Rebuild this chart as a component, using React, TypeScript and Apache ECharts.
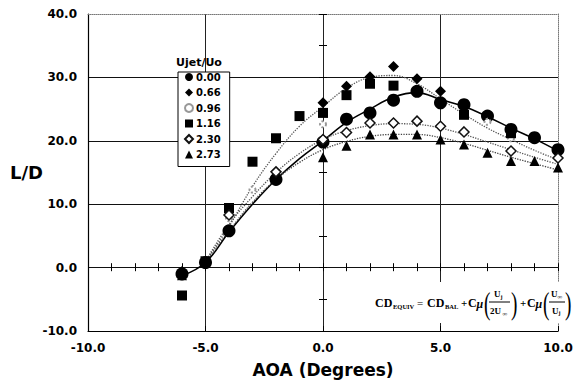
import React, { useEffect, useRef } from "react";
import * as echarts from "echarts";

const seriesNames = ["0.00", "0.66", "0.96", "1.16", "2.30", "2.73"];

const aoa000 = [-6, -5, -4, -2, 0, 1, 2, 3, 4, 5, 6, 7, 8, 9, 10];
const ld000 = [-1.0, 0.8, 5.8, 13.9, 19.8, 23.4, 24.4, 26.4, 27.8, 26.0, 25.7, 23.9, 21.8, 20.5, 18.6];

const aoa066 = [-6, -5, 0, 1, 2, 3, 4, 5];
const ld066 = [-0.6, 1.0, 26.0, 28.6, 30.1, 31.7, 29.8, 27.8];

const aoa096 = [-4, -3, 0, 7, 8];
const ld096 = [7.8, 12.3, 22.6, 23.0, 20.4];

const aoa116 = [-6, -5, -4, -3, -2, -1, 0, 1, 2, 3, 6, 8];
const ld116 = [-4.4, 1.0, 9.4, 16.7, 20.4, 23.9, 24.4, 27.2, 29.0, 28.7, 24.1, 21.2];

const aoa230 = [-4, -2, 0, 1, 2, 3, 4, 5, 6, 8, 10];
const ld230 = [8.3, 15.1, 20.2, 21.3, 22.8, 22.8, 23.1, 22.3, 21.4, 18.4, 17.3];

const aoa273 = [-6, -5, 0, 1, 2, 3, 4, 5, 6, 7, 8, 9, 10];
const ld273 = [-1.2, 0.8, 17.4, 19.2, 21.0, 21.0, 21.0, 20.2, 19.4, 18.1, 16.8, 16.8, 15.8];

// trend curves
const fitSolidAoa = [-6, -5, -4, -3, -2, -1, 0, 1, 2, 3, 4, 5, 6, 7, 8, 9, 10];
const fitSolid = [-1.3, 0.8, 5.6, 10.0, 13.9, 17.2, 20.0, 22.9, 25.0, 26.9, 27.6, 26.5, 25.4, 23.8, 22.0, 20.3, 18.4];
const fitDotAoa = [-5, -4, -3, -2, -1, 0, 1, 2, 3, 4, 5, 6, 7, 8, 9, 10];
const fitUpper = [1.0, 6.5, 12.8, 18.0, 22.3, 25.4, 28.3, 30.0, 30.3, 29.0, 26.6, 24.2, 22.0, 20.2, 18.5, 17.0];
const fitMid = [1.0, 6.8, 11.2, 15.0, 18.0, 20.2, 21.6, 22.4, 22.7, 22.6, 22.0, 21.0, 19.8, 18.6, 17.4, 16.3];
const fitLower = [0.9, 5.8, 10.3, 13.9, 16.6, 18.6, 19.9, 20.7, 21.0, 21.0, 20.5, 19.6, 18.5, 17.4, 16.4, 15.4];

const zip = (xs: number[], ys: number[]) => xs.map((x, i) => [x, ys[i]]);

const sans = '"DejaVu Sans", Arial, sans-serif';
const serif = '"Liberation Serif", "DejaVu Serif", serif';

const ftxt = (text: string, x: number, y: number, size: number, bold = true, italic = false, scaleX = 1) => ({
  type: "text",
  x,
  y,
  z: 60,
  scaleX,
  style: {
    text,
    fontSize: size,
    fontWeight: bold ? "bold" : "normal",
    fontStyle: italic ? "italic" : "normal",
    fontFamily: serif,
    fill: "#000",
    align: "left",
    verticalAlign: "middle",
  },
});

// grid geometry (px)
const G_LEFT = 88;
const G_RIGHT = 21;
const G_TOP = 14;
const G_BOTTOM = 50;
const W = 579;
const H = 383;

export default function App() {
  const ref = useRef<HTMLDivElement>(null);
  useEffect(() => {
    const chart = echarts.init(ref.current!, null, { renderer: "svg" });
    const fmt = (v: number) => v.toFixed(1);
    const lbl = { fontFamily: sans, fontWeight: "bold", fontSize: 12, color: "#000" };
    const hidden = { show: false };
    const plotW = W - G_LEFT - G_RIGHT;
    const plotH = H - G_TOP - G_BOTTOM;
    const xZeroOffset = -((0 - -10) / 20) * plotW;
    const yZeroOffset = -((0 - -10) / 50) * plotH;
    const tickAxisX = (inside: boolean) => ({
      type: "value",
      min: -10,
      max: 10,
      interval: 1,
      position: "bottom",
      offset: yZeroOffset,
      axisLine: { show: false, onZero: false },
      axisTick: { show: true, inside, length: 4, lineStyle: { color: "#000", width: 1 } },
      axisLabel: hidden,
      splitLine: hidden,
    });
    const tickAxisY = (inside: boolean) => ({
      type: "value",
      min: -10,
      max: 40,
      interval: 5,
      position: "left",
      offset: xZeroOffset,
      axisLine: { show: false, onZero: false },
      axisTick: { show: true, inside, length: 4, lineStyle: { color: "#000", width: 1 } },
      axisLabel: hidden,
      splitLine: hidden,
    });
    const option: any = {
      animation: false,
      backgroundColor: "#fff",
      textStyle: { fontFamily: sans },
      grid: { left: G_LEFT, right: G_RIGHT, top: G_TOP, bottom: G_BOTTOM },
      legend: {
        orient: "vertical",
        left: 178,
        top: 72,
        data: seriesNames,
        itemWidth: 8,
        itemHeight: 8,
        itemGap: 5.5,
        padding: [0, 9, 7, 6],
        backgroundColor: "#fff",
        borderColor: "#000",
        borderWidth: 1,
        textStyle: { fontFamily: sans, fontWeight: "bold", fontSize: 10, color: "#000", padding: [0, 0, 0, -2] },
        z: 20,
      },
      xAxis: [
        {
          type: "value",
          min: -10,
          max: 10,
          interval: 5,
          position: "bottom",
          axisLine: { onZero: false, lineStyle: { color: "#000", width: 1.2 } },
          axisTick: { show: true, inside: true, length: 5, lineStyle: { color: "#000" } },
          axisLabel: { ...lbl, margin: 11, formatter: fmt },
          splitLine: { show: true, showMinLine: false, showMaxLine: false, lineStyle: { color: "#222", width: 1 } },
          name: "AOA (Degrees)",
          nameLocation: "middle",
          nameGap: 30,
          nameMoveOverlap: false,
          nameTextStyle: { fontFamily: sans, fontWeight: "bold", fontSize: 17, color: "#000" },
        },
        tickAxisX(false),
        tickAxisX(true),
        {
          type: "value",
          min: -10,
          max: 10,
          position: "top",
          axisLine: { show: true, onZero: false, lineStyle: { color: "#777", width: 1, type: "dotted" } },
          axisTick: hidden,
          axisLabel: hidden,
          splitLine: hidden,
        },
      ],
      yAxis: [
        {
          type: "value",
          min: -10,
          max: 40,
          interval: 10,
          position: "left",
          axisLine: { show: true, onZero: false, lineStyle: { color: "#000", width: 1.2 } },
          axisTick: hidden,
          axisLabel: { ...lbl, margin: 11, formatter: fmt },
          splitLine: { show: true, showMinLine: false, showMaxLine: false, lineStyle: { color: "#111", width: 1 } },
          name: "L/D",
          nameLocation: "middle",
          nameRotate: 0,
          nameGap: 45,
          nameMoveOverlap: false,
          nameTextStyle: { fontFamily: sans, fontWeight: "bold", fontSize: 18, color: "#000" },
        },
        tickAxisY(false),
        tickAxisY(true),
        {
          type: "value",
          min: -10,
          max: 40,
          position: "right",
          axisLine: { show: true, onZero: false, lineStyle: { color: "#777", width: 1, type: "dotted" } },
          axisTick: hidden,
          axisLabel: hidden,
          splitLine: hidden,
        },
      ],
      series: [
        {
          type: "line",
          name: "fit 0.00",
          data: zip(fitSolidAoa, fitSolid),
          smooth: 0.4,
          symbol: "none",
          lineStyle: { color: "#000", width: 1.6 },
          z: 3,
        },
        {
          type: "line",
          name: "fit upper",
          data: zip(fitDotAoa, fitUpper),
          smooth: 0.4,
          symbol: "none",
          lineStyle: { color: "#555", width: 1.3, type: "dotted" },
          z: 3,
        },
        {
          type: "line",
          name: "fit 2.30",
          data: zip(fitDotAoa, fitMid),
          smooth: 0.4,
          symbol: "none",
          lineStyle: { color: "#555", width: 1.3, type: "dotted" },
          z: 3,
        },
        {
          type: "line",
          name: "fit 2.73",
          data: zip(fitDotAoa, fitLower),
          smooth: 0.4,
          symbol: "none",
          lineStyle: { color: "#444", width: 1.3, type: "dotted" },
          z: 3,
        },
        {
          type: "scatter",
          name: "0.00",
          data: zip(aoa000, ld000),
          symbol: "circle",
          symbolSize: 13,
          itemStyle: { color: "#000", opacity: 1 },
          z: 5,
        },
        {
          type: "scatter",
          name: "0.66",
          data: zip(aoa066, ld066),
          symbol: "diamond",
          symbolSize: 11,
          itemStyle: { color: "#000", opacity: 1 },
          z: 5,
        },
        {
          type: "scatter",
          name: "0.96",
          data: zip(aoa096, ld096),
          symbol: "emptyCircle",
          symbolSize: 6,
          itemStyle: { color: "#999", borderColor: "#999", borderWidth: 1, borderType: "dotted", opacity: 1 },
          z: 5,
        },
        {
          type: "scatter",
          name: "1.16",
          data: zip(aoa116, ld116),
          symbol: "rect",
          symbolSize: 10,
          itemStyle: { color: "#000", opacity: 1 },
          z: 5,
        },
        {
          type: "scatter",
          name: "2.30",
          data: zip(aoa230, ld230),
          symbol: "diamond",
          symbolSize: 10,
          itemStyle: { color: "#fff", borderColor: "#111", borderWidth: 1.5, opacity: 1 },
          z: 6,
        },
        {
          type: "scatter",
          name: "2.73",
          data: zip(aoa273, ld273),
          symbol: "triangle",
          symbolSize: 10,
          itemStyle: { color: "#000", opacity: 1 },
          z: 6,
        },
      ],
      graphic: [
        {
          type: "text",
          x: 176,
          y: 62,
          z: 60,
          style: {
            text: "Ujet/Uo",
            fontFamily: sans,
            fontWeight: "bold",
            fontSize: 11,
            fill: "#000",
            align: "left",
            verticalAlign: "middle",
          },
        },
        { type: "rect", z: 55, shape: { x: 368, y: 282, width: 205, height: 41 }, style: { fill: "#fff" } },
        ftxt("CD", 375, 302.5, 12),
        ftxt("EQUIV", 393, 306, 6.5),
        ftxt("=", 417, 302.5, 11, false),
        ftxt("CD", 427, 302.5, 12),
        ftxt("BAL", 445, 306, 6.5),
        ftxt("+", 461, 302.5, 11),
        ftxt("C", 468, 302.5, 12),
        ftxt("\u03bc", 476.5, 303.5, 12, true, true),
        ftxt("(", 484, 303, 32, false, false, 0.6),
        ftxt("U", 494, 294, 9),
        ftxt("j", 500.5, 296.5, 6),
        { type: "line", z: 60, shape: { x1: 489, y1: 302, x2: 510, y2: 302 }, style: { stroke: "#000", lineWidth: 1 } },
        ftxt("2U", 490, 310.5, 9),
        ftxt("\u221e", 502.5, 313, 6.5),
        ftxt(")", 511, 303, 32, false, false, 0.6),
        ftxt("+", 520, 302.5, 11),
        ftxt("C", 527, 302.5, 12),
        ftxt("\u03bc", 535.5, 303.5, 12, true, true),
        ftxt("(", 543, 303, 32, false, false, 0.6),
        ftxt("U", 551, 294, 9),
        ftxt("\u221e", 557.5, 296.5, 6.5),
        { type: "line", z: 60, shape: { x1: 549, y1: 302, x2: 565, y2: 302 }, style: { stroke: "#000", lineWidth: 1 } },
        ftxt("U", 552, 310.5, 9),
        ftxt("j", 558.5, 313, 6),
        ftxt(")", 565, 303, 32, false, false, 0.6),
      ],
    };
    chart.setOption(option);
    return () => chart.dispose();
  }, []);
  return <div ref={ref} style={{ position: "fixed", left: 0, top: 0, width: W, height: H }} />;
}
